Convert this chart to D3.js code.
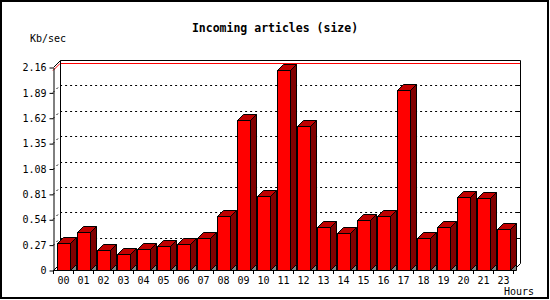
<!DOCTYPE html>
<meta charset="utf-8">
<script src="https://d3js.org/d3.v7.min.js"></script>
<style>
  body { margin: 0; background: #fff; }
  text { font-family: "DejaVu Sans Mono", monospace; }
</style>
<body>
<div id="my_dataviz"></div>
</body>
<script>

var hours = ["00","01","02","03","04","05","06","07","08","09","10","11",
             "12","13","14","15","16","17","18","19","20","21","23"];
var kbps = [0.284, 0.40, 0.21, 0.167, 0.22, 0.252, 0.273, 0.337, 0.574, 1.60, 0.79, 2.125,
            1.53, 0.454, 0.394, 0.529, 0.571, 1.92, 0.337, 0.454, 0.777, 0.763, 0.433];
var yTicks = [0, 0.27, 0.54, 0.81, 1.08, 1.35, 1.62, 1.89, 2.16];
var yTickLabels = ["0", "0.27", "0.54", "0.81", "1.08", "1.35", "1.62", "1.89", "2.16"];

var W = 550, H = 300;
var pLeft = 53, pRight = 513, pBottom = 270, pTop = 67;
var wall = 7;   // back wall offset
var depth = 6;  // bar depth

var svg = d3.select("#my_dataviz")
  .append("svg")
    .attr("width", W)
    .attr("height", H);

svg.append("rect")
  .attr("x", 1).attr("y", 1)
  .attr("width", W - 3).attr("height", H - 3)
  .attr("fill", "#fff")
  .attr("stroke", "#000")
  .attr("stroke-width", 2);

var x = d3.scaleBand()
  .domain(hours)
  .range([pLeft, pRight])
  .paddingInner(0.35)
  .paddingOuter(0.175);

var y = d3.scaleLinear()
  .domain([0, 2.16])
  .range([pBottom, pTop]);

// dotted grid lines, front axis -> back wall
yTicks.slice(1, -1).forEach(function(t) {
  var yy = Math.round(y(t)) + 0.5;
  svg.append("path")
    .attr("d", "M" + pLeft + "," + yy + "L" + (pLeft + wall) + "," + (yy - wall) + "L" + (pRight + wall) + "," + (yy - wall))
    .attr("fill", "none")
    .attr("stroke", "#000")
    .attr("stroke-dasharray", "2,3");
  svg.append("line")
    .attr("x1", pRight + wall - 3).attr("x2", pRight + wall)
    .attr("y1", yy - wall).attr("y2", yy - wall)
    .attr("stroke", "#000");
});

// max line
var maxV = d3.max(kbps);
var ym = Math.round(y(maxV)) + 0.5;
svg.append("path")
  .attr("d", "M" + pLeft + "," + ym + "L" + (pLeft + wall) + "," + (ym - wall) + "L" + (pRight + wall) + "," + (ym - wall))
  .attr("fill", "none")
  .attr("stroke", "#ff0000");

// back wall frame
var t0 = Math.round(y(2.16)) + 0.5;
svg.append("path")
  .attr("d", "M" + (pLeft + 0.5) + "," + t0 + "L" + (pLeft + wall + 0.5) + "," + (t0 - wall) +
             "L" + (pRight + wall + 0.5) + "," + (t0 - wall) +
             "L" + (pRight + wall + 0.5) + "," + (pBottom - wall + 0.5) +
             "L" + (pRight + 0.5) + "," + (pBottom + 0.5))
  .attr("fill", "none")
  .attr("stroke", "#000");
svg.append("line")
  .attr("x1", pLeft + wall + 0.5).attr("x2", pLeft + wall + 0.5)
  .attr("y1", t0 - wall).attr("y2", pBottom - wall + 0.5)
  .attr("stroke", "#000");
svg.append("line")
  .attr("x1", pLeft + 0.5).attr("x2", pLeft + wall + 0.5)
  .attr("y1", pBottom + 0.5).attr("y2", pBottom - wall + 0.5)
  .attr("stroke", "#000");

// bars
var bw = x.bandwidth();
var bars = svg.selectAll(".bar")
  .data(hours.map(function(h, i) { return { hour: h, v: kbps[i] }; }))
  .enter()
  .append("g")
    .attr("class", "bar");

bars.append("path")
  .attr("d", function(d) {
    var r = Math.round(x(d.hour) + bw) + 0.5, b = pBottom + 0.5;
    return "M" + r + "," + b + "L" + (r + depth) + "," + (b - depth) + "L" + (r + depth) + "," + b + "Z";
  })
  .attr("fill", "#808080")
  .attr("stroke", "#000");

bars.append("path")
  .attr("d", function(d) {
    var l = Math.round(x(d.hour)) + 0.5, r = Math.round(x(d.hour) + bw) + 0.5, t = Math.round(y(d.v)) + 0.5;
    return "M" + l + "," + t + "L" + (l + depth) + "," + (t - depth) + "L" + (r + depth) + "," + (t - depth) + "L" + r + "," + t + "Z";
  })
  .attr("fill", "#c00000")
  .attr("stroke", "#000");

bars.append("path")
  .attr("d", function(d) {
    var r = Math.round(x(d.hour) + bw) + 0.5, t = Math.round(y(d.v)) + 0.5, b = pBottom + 0.5;
    return "M" + r + "," + t + "L" + (r + depth) + "," + (t - depth) + "L" + (r + depth) + "," + (b - depth) + "L" + r + "," + b + "Z";
  })
  .attr("fill", "#800000")
  .attr("stroke", "#000");

bars.append("rect")
  .attr("x", function(d) { return Math.round(x(d.hour)) + 0.5; })
  .attr("y", function(d) { return Math.round(y(d.v)) + 0.5; })
  .attr("width", Math.round(bw))
  .attr("height", function(d) { return pBottom - Math.round(y(d.v)); })
  .attr("fill", "#ff0000")
  .attr("stroke", "#000");

// y axis
var yAxis = svg.append("g")
  .attr("transform", "translate(" + (pLeft + 0.5) + ",0.5)")
  .call(d3.axisLeft(y)
    .tickValues(yTicks)
    .tickFormat(function(d, i) { return yTickLabels[i]; })
    .tickSize(4)
    .tickSizeOuter(0)
    .tickPadding(3));
yAxis.selectAll("text").style("font-size", "10px").attr("fill", "#000");

// x axis
var xTickPos = hours.map(function(h, i) { return pLeft + i * x.step(); }).concat([pRight]);
svg.append("line")
  .attr("x1", pLeft).attr("x2", pRight + 1)
  .attr("y1", pBottom + 0.5).attr("y2", pBottom + 0.5)
  .attr("stroke", "#000");
svg.selectAll(".xtick")
  .data(xTickPos)
  .enter()
  .append("line")
    .attr("x1", function(d) { return d + 0.5; })
    .attr("x2", function(d) { return d + 0.5; })
    .attr("y1", pBottom)
    .attr("y2", pBottom + 4)
    .attr("stroke", "#000");
svg.selectAll(".xlab")
  .data(hours)
  .enter()
  .append("text")
    .attr("x", function(d) { return x(d) + bw / 2 + 0.5; })
    .attr("y", pBottom + 14)
    .attr("text-anchor", "middle")
    .style("font-size", "10px")
    .text(function(d) { return d; });

svg.append("text")
  .attr("x", 534)
  .attr("y", 295)
  .attr("text-anchor", "end")
  .style("font-size", "10px")
  .text("Hours");

svg.append("text")
  .attr("x", 30)
  .attr("y", 42)
  .style("font-size", "10px")
  .text("Kb/sec");

svg.append("text")
  .attr("x", 275)
  .attr("y", 32)
  .attr("text-anchor", "middle")
  .style("font-size", "11.5px")
  .style("font-weight", "bold")
  .text("Incoming articles (size)");

</script>
